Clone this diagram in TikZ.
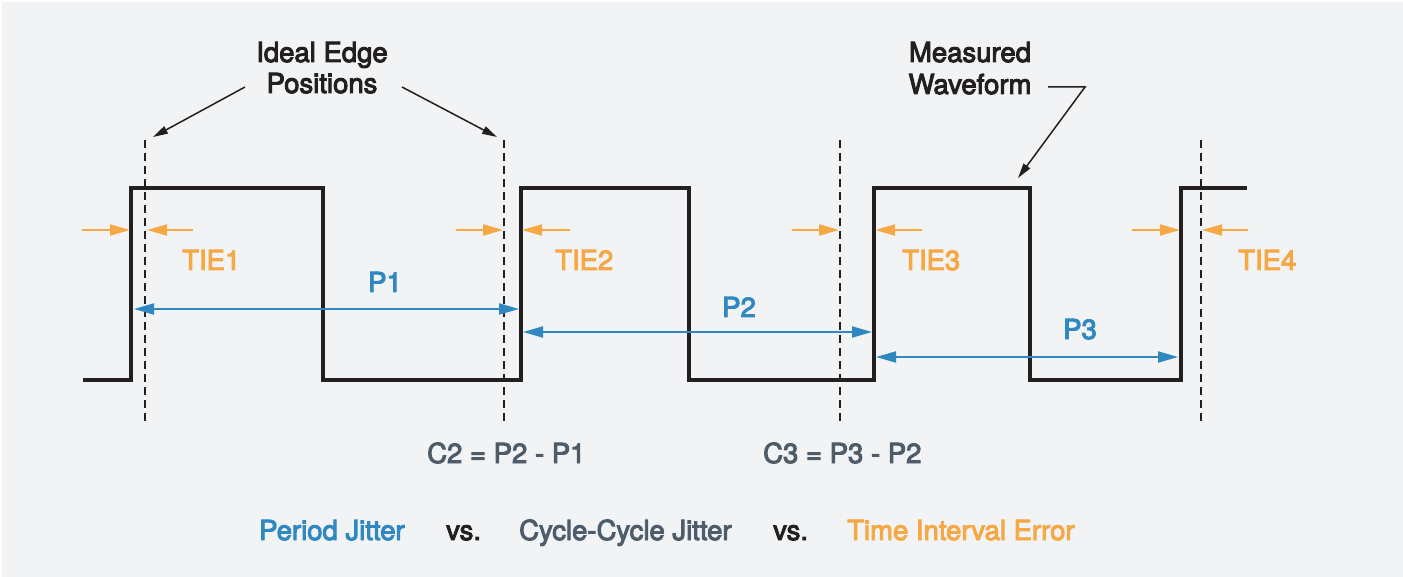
\documentclass[tikz,border=0pt]{standalone}
\usepackage{fontspec}
\setmainfont{TeX Gyre Heros}
\usetikzlibrary{arrows.meta}
\newcommand\hv[1]{\special{pdf:literal direct 2 Tr 0.95 w}#1\special{pdf:literal direct 0 Tr}}
\definecolor{bgc}{HTML}{F2F3F5}
\definecolor{inkc}{HTML}{231F20}
\definecolor{tieorange}{HTML}{F6A845}
\definecolor{perblue}{HTML}{3088C0}
\definecolor{cycgray}{HTML}{4E5C6A}
\tikzset{
  wave/.style={draw=inkc, line width=3.2pt, line join=miter},
  ideal/.style={draw=inkc, line width=1.7pt, dash pattern=on 8pt off 5pt},
  tiearrow/.style={draw=tieorange, line width=2pt, -{Triangle[length=20pt,width=11pt]}},
  perarrow/.style={draw=perblue, line width=2pt, {Triangle[length=20pt,width=11pt]}-{Triangle[length=20pt,width=11pt]}},
  callout/.style={draw=inkc, line width=1.5pt, -{Triangle[length=15pt,width=8pt]}},
  lbl/.style={inner sep=0pt, font=\fontsize{27.5}{32}\selectfont},
  tielbl/.style={lbl, text=tieorange, anchor=base west},
  perlbl/.style={lbl, text=perblue, anchor=base west},
  cyclbl/.style={lbl, text=cycgray, anchor=base west},
  title/.style={lbl, text=inkc, anchor=base}
}
\begin{document}
\begin{tikzpicture}[x=1pt,y=-1pt]
\useasboundingbox (0,0) rectangle (1403,577);
\fill[white] (0,0) rectangle (1403,577);
\fill[bgc] (2,2) rectangle (1403,577);

% ideal edge positions (dashed)
\coordinate (d1t) at (145,140); \coordinate (d1b) at (145,425);
\coordinate (d2t) at (504,140); \coordinate (d2b) at (504,425);
\coordinate (d3t) at (840,140); \coordinate (d3b) at (840,425);
\coordinate (d4t) at (1201,140); \coordinate (d4b) at (1201,425);
\draw[ideal] (d1t) -- (d1b);
\draw[ideal] (d2t) -- (d2b);
\draw[ideal] (d3t) -- (d3b);
\draw[ideal] (d4t) -- (d4b);

% measured waveform
\coordinate (w0) at (83,380);
\coordinate (w1) at (131,380); \coordinate (w2) at (131,188);
\coordinate (w3) at (323,188); \coordinate (w4) at (323,380);
\coordinate (w5) at (521,380); \coordinate (w6) at (521,188);
\coordinate (w7) at (689,188); \coordinate (w8) at (689,380);
\coordinate (w9) at (874,380); \coordinate (w10) at (874,188);
\coordinate (w11) at (1030,188); \coordinate (w12) at (1030,380);
\coordinate (w13) at (1181,380); \coordinate (w14) at (1181,188);
\coordinate (w15) at (1247,188);
\draw[wave] (w0) -- (w1) -- (w2) -- (w3) -- (w4) -- (w5) -- (w6) -- (w7) -- (w8) -- (w9) -- (w10) -- (w11) -- (w12) -- (w13) -- (w14) -- (w15);

% TIE arrows
\coordinate (t1a) at (82,230); \coordinate (t1b) at (130,230);
\coordinate (t1c) at (193,230); \coordinate (t1d) at (147,230);
\coordinate (t2a) at (456,230); \coordinate (t2b) at (503,230);
\coordinate (t2c) at (570,230); \coordinate (t2d) at (522,230);
\coordinate (t3a) at (792,230); \coordinate (t3b) at (839,230);
\coordinate (t3c) at (922,230); \coordinate (t3d) at (875,230);
\coordinate (t4a) at (1132,230); \coordinate (t4b) at (1180,230);
\coordinate (t4c) at (1248,230); \coordinate (t4d) at (1202,230);
\draw[tiearrow] (t1a) -- (t1b);
\draw[tiearrow] (t1c) -- (t1d);
\draw[tiearrow] (t2a) -- (t2b);
\draw[tiearrow] (t2c) -- (t2d);
\draw[tiearrow] (t3a) -- (t3b);
\draw[tiearrow] (t3c) -- (t3d);
\draw[tiearrow] (t4a) -- (t4b);
\draw[tiearrow] (t4c) -- (t4d);
\node[tielbl] (tie1) at (182,270) {\hv{TIE1}};
\node[tielbl] (tie2) at (555,270) {\hv{TIE2}};
\node[tielbl] (tie3) at (902,270) {\hv{TIE3}};
\node[tielbl] (tie4) at (1238,270) {\hv{TIE4}};

% period arrows
\coordinate (p1a) at (134,309); \coordinate (p1b) at (519,309);
\coordinate (p2a) at (523,332); \coordinate (p2b) at (872,332);
\coordinate (p3a) at (876,357); \coordinate (p3b) at (1178,357);
\draw[perarrow] (p1a) -- (p1b);
\draw[perarrow] (p2a) -- (p2b);
\draw[perarrow] (p3a) -- (p3b);
\node[perlbl] (P1) at (368,292) {\hv{P1}};
\node[perlbl] (P2) at (722,317) {\hv{P2}};
\node[perlbl] (P3) at (1063,339) {\hv{P3}};

% cycle-cycle labels
\node[cyclbl] (C2) at (427,463) {\hv{C2 = P2 - P1}};
\node[cyclbl] (C3) at (763,463) {\hv{C3 = P3 - P2}};

% titles
\node[title] (ideal1) at (322,62) {\hv{Ideal Edge}};
\node[title] (ideal2) at (322,93) {\hv{Positions}};
\node[title] (meas1) at (970,62) {\hv{Measured}};
\node[title] (meas2) at (970,94) {\hv{Waveform}};

% callouts
\coordinate (ia) at (245,87); \coordinate (ib) at (153,137);
\coordinate (ic) at (402,87); \coordinate (id) at (497,137);
\draw[callout] (ia) -- (ib);
\draw[callout] (ic) -- (id);
\coordinate (ma) at (1048,87); \coordinate (mb) at (1085,87); \coordinate (mc) at (1018,178);
\draw[callout] (ma) -- (mb) -- (mc);

% legend
\node[lbl, text=perblue, anchor=base west] (leg1) at (259,540) {\hv{Period Jitter}};
\node[lbl, text=inkc, anchor=base west] (vs1) at (446,540) {\hv{vs.}};
\node[lbl, text=cycgray, anchor=base west] (leg2) at (519,540) {\hv{Cycle-Cycle Jitter}};
\node[lbl, text=inkc, anchor=base west] (vs2) at (773,540) {\hv{vs.}};
\node[lbl, text=tieorange, anchor=base west] (leg3) at (847,540) {\hv{Time Interval Error}};
\end{tikzpicture}
\end{document}
